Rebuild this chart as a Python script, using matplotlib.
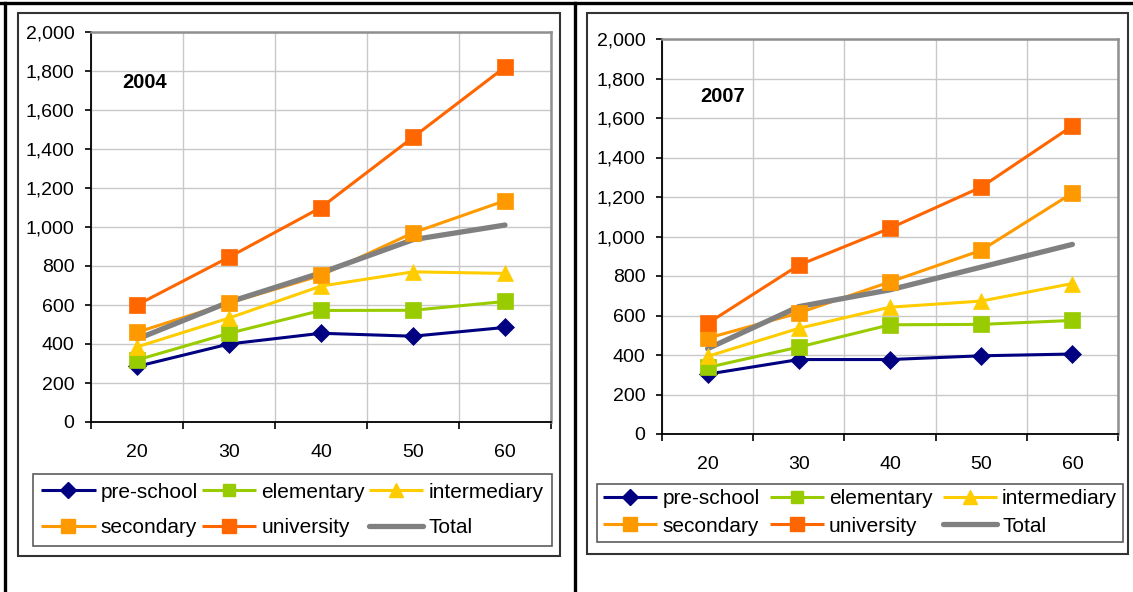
import numpy as np
import matplotlib
matplotlib.use("Agg")
import matplotlib.pyplot as plt
from matplotlib.lines import Line2D
from matplotlib.patches import Rectangle
from matplotlib.ticker import StrMethodFormatter

plt.rcParams['font.family'] = ['Liberation Sans', 'DejaVu Sans']

# data
ages = ['20', '30', '40', '50', '60']
series = ['pre-school', 'elementary', 'intermediary', 'secondary', 'university', 'Total']

vals_2004 = {
    'pre-school':   [285, 400, 455, 440, 485],
    'elementary':   [318, 455, 572, 573, 618],
    'intermediary': [385, 533, 697, 770, 762],
    'secondary':    [460, 610, 752, 970, 1135],
    'university':   [600, 845, 1100, 1460, 1820],
    'Total':        [425, 615, 765, 935, 1010],
}
vals_2007 = {
    'pre-school':   [303, 377, 377, 396, 405],
    'elementary':   [337, 440, 553, 555, 575],
    'intermediary': [393, 535, 642, 673, 762],
    'secondary':    [485, 613, 770, 930, 1220],
    'university':   [560, 855, 1042, 1250, 1560],
    'Total':        [432, 645, 730, 845, 960],
}

colors = {'pre-school': '#000080', 'elementary': '#99CC00', 'intermediary': '#FFCC00',
          'secondary': '#FF9900', 'university': '#FF6600', 'Total': '#808080'}
markers = {'pre-school': 'D', 'elementary': 's', 'intermediary': '^',
           'secondary': 's', 'university': 's', 'Total': None}
msizes = {'pre-school': 9, 'elementary': 11, 'intermediary': 12,
          'secondary': 11.5, 'university': 11.5, 'Total': 0}
lwidths = {'pre-school': 2.2, 'elementary': 2.2, 'intermediary': 2.2,
           'secondary': 2.2, 'university': 2.2, 'Total': 3.8}

# legend is filled column by column, so list it so the rows read left to right
legend_order = ['pre-school', 'secondary', 'elementary', 'university', 'intermediary', 'Total']

W, H = 1133, 592
fig = plt.figure(figsize=(W / 100, H / 100), dpi=100)


def fbox(x0, y0, x1, y1):
    # pixel box (top-left origin) -> figure fraction
    return [x0 / W, 1 - y1 / H, (x1 - x0) / W, (y1 - y0) / H]


def draw_panel(box, vals, year, year_xy, leg_box, leg_spacing, leg_pad):
    ax = fig.add_axes(fbox(*box))
    x = np.arange(len(ages))
    # lines first, then markers (like the spreadsheet does)
    for s in series:
        ax.plot(x, vals[s], color=colors[s], lw=lwidths[s], zorder=2,
                solid_capstyle='round' if s == 'Total' else 'butt')
    for s in series:
        if markers[s]:
            ax.plot(x, vals[s], ls='none', marker=markers[s], ms=msizes[s],
                    mfc=colors[s], mec=colors[s], mew=0.5, zorder=3)

    ax.set_xlim(-0.5, 4.5)
    ax.set_ylim(0, 2000)
    ax.set_xticks(x)
    ax.set_xticklabels(ages)
    ax.set_xticks(np.arange(-0.5, 5, 1), minor=True)
    ax.set_yticks(np.arange(0, 2001, 200))
    ax.yaxis.set_major_formatter(StrMethodFormatter('{x:,.0f}'))
    ax.tick_params(axis='x', which='major', length=0, pad=16, labelsize=14)
    ax.tick_params(axis='x', which='minor', length=5, width=1.2, direction='out')
    ax.tick_params(axis='y', length=4, width=1.2, direction='out', pad=8, labelsize=14)
    ax.grid(True, axis='x', which='minor', color='#C8C8C8', lw=1)
    ax.grid(True, axis='y', which='major', color='#C8C8C8', lw=1)
    ax.set_axisbelow(True)
    for sp in ['left', 'bottom']:
        ax.spines[sp].set_color('black')
        ax.spines[sp].set_linewidth(1.3)
    for sp in ['top', 'right']:
        ax.spines[sp].set_color('#909090')
        ax.spines[sp].set_linewidth(1.8)

    fig.text(year_xy[0] / W, 1 - year_xy[1] / H, year, ha='center', va='center',
             fontsize=14.5, fontweight='bold')

    handles = []
    for s in legend_order:
        handles.append(Line2D([], [], color=colors[s], lw=lwidths[s],
                              marker=markers[s] if markers[s] else None,
                              ms=msizes[s] * 0.85, mfc=colors[s], mec=colors[s],
                              solid_capstyle='round' if s == 'Total' else 'butt'))
    lg = fig.legend(handles, legend_order, loc='center', ncol=3, mode='expand',
                    bbox_to_anchor=fbox(*leg_box), bbox_transform=fig.transFigure,
                    fontsize=15, frameon=True, fancybox=False, borderaxespad=0,
                    handlelength=2.6, handletextpad=0.25, columnspacing=0.3,
                    labelspacing=leg_spacing, borderpad=leg_pad)
    lg.get_frame().set_edgecolor('#333333')
    lg.get_frame().set_linewidth(1.2)
    return ax


draw_panel((91, 32, 551, 422), vals_2004, '2004', (145, 82), (33, 470, 552, 550), 0.8, 0.4)
draw_panel((662, 39, 1118, 434), vals_2007, '2007', (723, 97), (597, 479, 1123, 546), 0.4, 0.28)

# chart area frames
for b in [(18, 13, 560, 556), (587, 13, 1128, 554)]:
    r = fbox(*b)
    fig.add_artist(Rectangle((r[0], r[1]), r[2], r[3], transform=fig.transFigure,
                             fill=False, ec='#333333', lw=1.5))

# surrounding table lines
fig.add_artist(Line2D([0, 1], [1 - 3 / H, 1 - 3 / H], color='black', lw=2.4, transform=fig.transFigure))
fig.add_artist(Line2D([5 / W, 5 / W], [0, 1 - 3 / H], color='black', lw=2.4, transform=fig.transFigure))
fig.add_artist(Line2D([575 / W, 575 / W], [0, 1 - 3 / H], color='black', lw=2.4, transform=fig.transFigure))

fig.savefig('out.png', dpi=100)
